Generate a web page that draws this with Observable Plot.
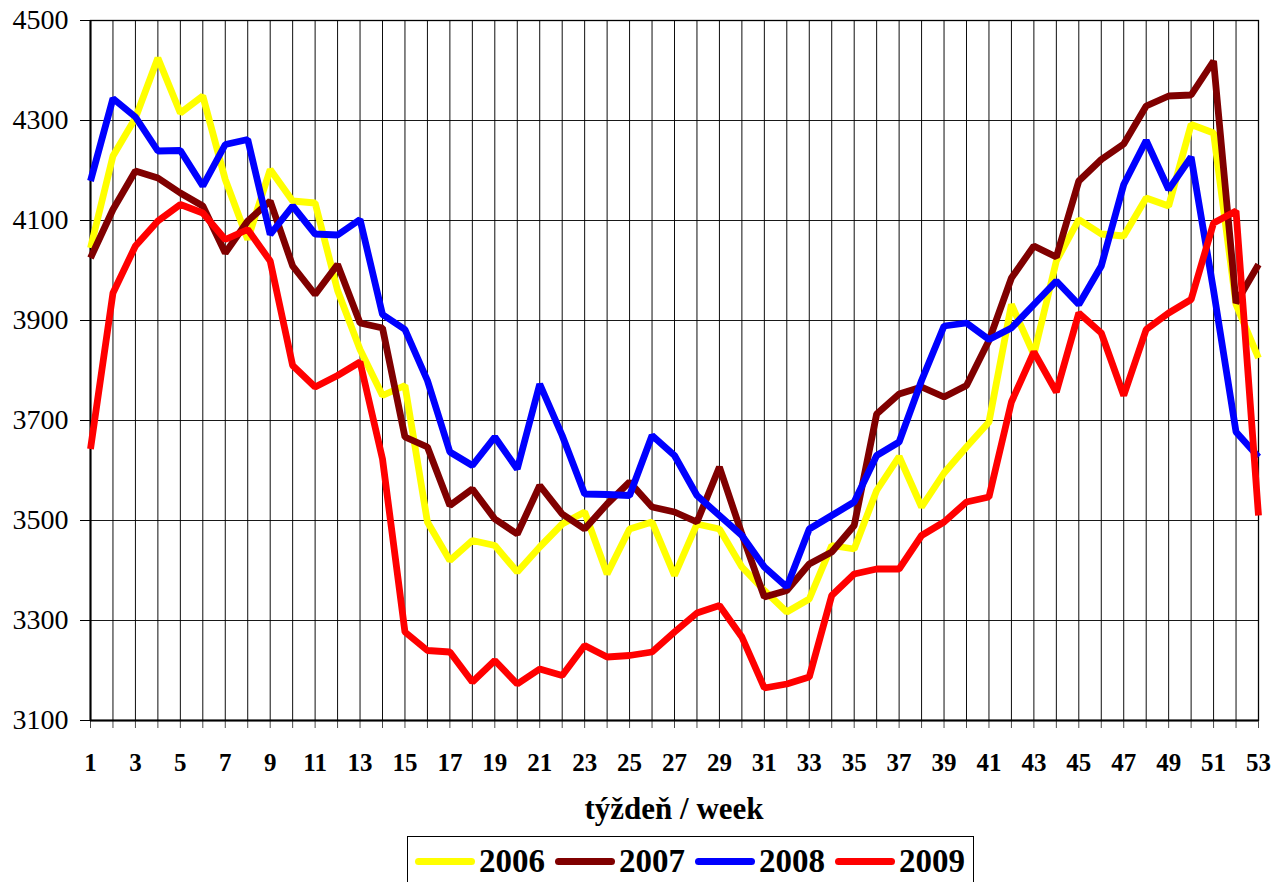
<!DOCTYPE html>
<html>
<head>
<meta charset="utf-8">
<script src="https://cdn.jsdelivr.net/npm/d3@7"></script>
<script src="https://cdn.jsdelivr.net/npm/@observablehq/plot@0.6"></script>
<style>
  html, body { margin: 0; padding: 0; background: #fff; }
  #wrap { position: relative; width: 1285px; height: 882px; overflow: hidden; font-family: "Liberation Serif", "Times New Roman", serif; }
  #chart { position: absolute; left: 0; top: 0; }
  #xtitle { position: absolute; left: 90px; width: 1168px; top: 792px; text-align: center; font-weight: bold; font-size: 31px; line-height: 34px; color: #000; font-family: "Liberation Serif", serif; }
  #legend { position: absolute; left: 407px; top: 836px; width: 567px; height: 70px; border: 1px solid #000; box-sizing: border-box; display: flex; align-items: flex-start; padding-top: 6px; padding-left: 7px; }
  .item { display: flex; align-items: center; margin-right: 10px; }
  .sw { width: 60px; height: 7px; border-radius: 4px; margin-right: 4px; }
  .lab { font-weight: bold; font-size: 33px; line-height: 36px; color: #000; font-family: "Liberation Serif", serif; }
</style>
</head>
<body>
<div id="wrap">
  <div id="chart"></div>
  <div id="xtitle">týždeň / week</div>
  <div id="legend"></div>
</div>
<script>
const weeks = [1,2,3,4,5,6,7,8,9,10,11,12,13,14,15,16,17,18,19,20,21,22,23,24,25,26,27,28,29,30,31,32,33,34,35,36,37,38,39,40,41,42,43,44,45,46,47,48,49,50,51,52,53];
const xTickLabels = [1,3,5,7,9,11,13,15,17,19,21,23,25,27,29,31,33,35,37,39,41,43,45,47,49,51,53];
const yTicks = [3100,3300,3500,3700,3900,4100,4300,4500];
const seriesNames = ["2006","2007","2008","2009"];
const seriesColors = ["#FFFF00","#800000","#0000FF","#FF0000"];

const y2006 = [4045,4229,4305,4425,4315,4349,4182,4062,4202,4139,4135,3960,3842,3750,3770,3497,3420,3460,3450,3397,3447,3493,3517,3393,3483,3497,3390,3493,3483,3407,3360,3317,3343,3450,3443,3560,3628,3527,3595,3647,3697,3932,3832,4019,4102,4073,4069,4145,4129,4292,4275,3932,3825];
const y2007 = [4025,4122,4199,4185,4155,4129,4035,4099,4139,4009,3952,4012,3895,3885,3667,3647,3530,3563,3503,3473,3570,3513,3483,3533,3577,3527,3517,3497,3607,3473,3347,3360,3413,3437,3490,3713,3753,3767,3747,3770,3860,3985,4049,4027,4179,4222,4253,4329,4349,4351,4419,3935,4012];
const y2008 = [4179,4344,4307,4239,4240,4169,4252,4262,4072,4129,4073,4071,4102,3912,3882,3780,3637,3610,3667,3603,3773,3670,3553,3552,3550,3670,3630,3550,3510,3470,3407,3367,3483,3510,3537,3630,3657,3780,3889,3895,3862,3885,3932,3979,3932,4009,4172,4260,4162,4227,3960,3677,3627];
const y2009 = [3643,3955,4049,4099,4132,4115,4062,4082,4019,3810,3767,3790,3817,3623,3277,3240,3237,3177,3220,3173,3203,3190,3250,3227,3230,3237,3277,3315,3330,3267,3165,3173,3187,3350,3393,3403,3403,3470,3497,3537,3547,3737,3837,3757,3915,3875,3750,3882,3915,3942,4095,4119,3510];

const allSeries = [y2006, y2007, y2008, y2009];
const data = [];
allSeries.forEach((vals, i) => {
  vals.forEach((v, j) => data.push({week: weeks[j], value: v, year: seriesNames[i]}));
});

const font = '"Liberation Serif", "Times New Roman", serif';

const chart = Plot.plot({
  width: 1285,
  height: 782,
  marginTop: 20,
  marginBottom: 62,
  marginLeft: 90,
  marginRight: 27,
  style: { fontFamily: font, background: "#fff", color: "#000" },
  x: { domain: [1, 53], type: "linear" },
  y: { domain: [3100, 4500] },
  color: { domain: seriesNames, range: seriesColors },
  marks: [
    Plot.ruleX(weeks, { stroke: "#000", strokeWidth: 1, strokeOpacity: 0.95 }),
    Plot.ruleY(yTicks, { stroke: "#000", strokeWidth: 1, strokeOpacity: 0.9 }),
    Plot.frame({ stroke: "#000", strokeWidth: 1.3 }),
    Plot.ruleX([1], { stroke: "#000", strokeWidth: 2 }),
    Plot.ruleY([3100], { stroke: "#000", strokeWidth: 2 }),
    Plot.axisY({ ticks: yTicks, tickSize: 10, tickPadding: 12, fontSize: 28, fontFamily: font, fill: "#000", stroke: "#000", label: null, tickFormat: d => String(d) }),
    Plot.axisX({ ticks: weeks, tickSize: 8, tickFormat: () => "", stroke: "#000", strokeOpacity: 0.7, label: null }),
    Plot.axisX({ ticks: xTickLabels, tickSize: 0, tickPadding: 33, fontSize: 25, fontWeight: "bold", fontFamily: font, fill: "#000", label: null, tickFormat: d => String(d) }),
    Plot.line(data, { x: "week", y: "value", z: "year", stroke: "year", strokeWidth: 6.8, strokeLinejoin: "miter", strokeLinecap: "butt" })
  ]
});
document.getElementById("chart").appendChild(chart);

const legend = document.getElementById("legend");
seriesNames.forEach((name, i) => {
  const item = document.createElement("div");
  item.className = "item";
  const sw = document.createElement("div");
  sw.className = "sw";
  sw.style.background = seriesColors[i];
  const lab = document.createElement("div");
  lab.className = "lab";
  lab.textContent = name;
  item.appendChild(sw);
  item.appendChild(lab);
  legend.appendChild(item);
});
</script>
</body>
</html>
